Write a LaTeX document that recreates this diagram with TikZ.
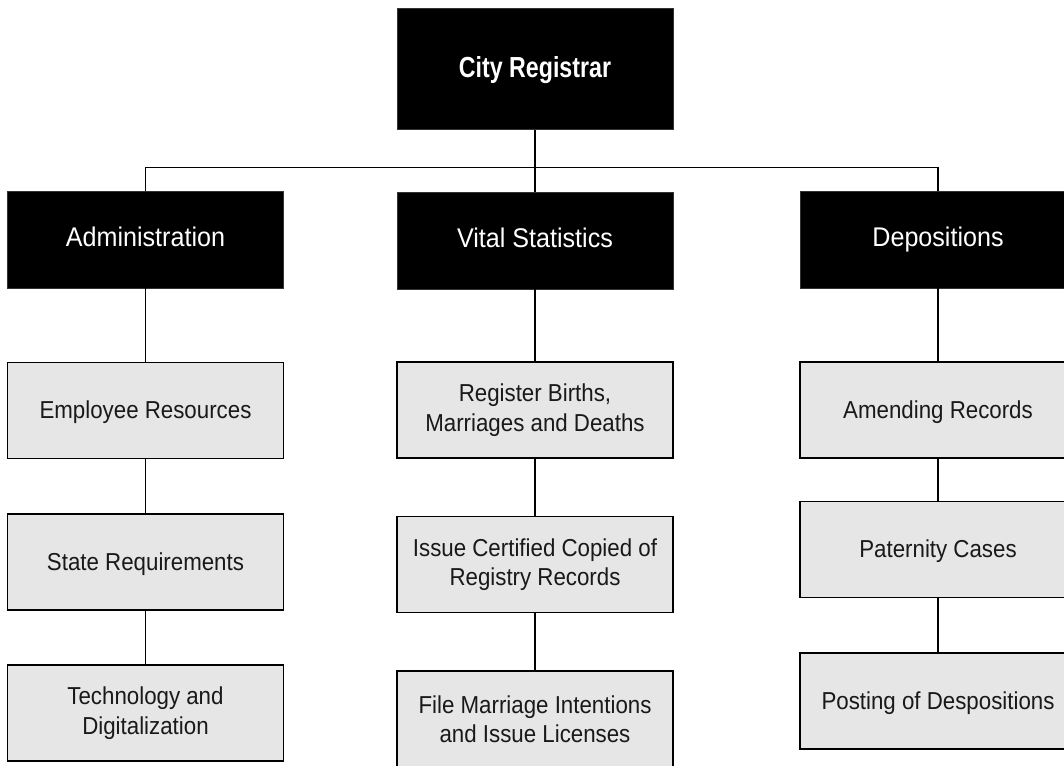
\documentclass[tikz,border=0pt]{standalone}
\usepackage{fontspec}
\setmainfont{Liberation Sans}
\newfontfamily\topfont{Liberation Sans}[FakeStretch=0.93]
\newfontfamily\subfont{Liberation Sans}[FakeStretch=0.91]
\newfontfamily\crfont{Liberation Sans}[FakeStretch=0.80]
\definecolor{boxgray}{HTML}{E6E6E6}
\tikzset{
  headbox/.style={rectangle, fill=black, draw=black!80, line width=0.8pt,
    minimum width=276pt, minimum height=97pt, inner sep=0pt,
    text height=19pt, text depth=6pt,
    text=white, font=\topfont\fontsize{27}{32}\selectfont},
  chiefbox/.style={headbox, minimum height=121pt,
    text height=21pt, text depth=4pt,
    font=\crfont\bfseries\fontsize{29}{34}\selectfont},
  subbox/.style={rectangle, fill=boxgray, draw=black, line width=1.5pt,
    minimum width=276pt, minimum height=96pt, inner sep=0pt, align=center,
    text=black!90, font=\subfont\fontsize{24.5}{29.5}\selectfont},
  oneline/.style={text height=18pt, text depth=1.5pt},
  link/.style={draw=black, line width=1.6pt}
}
\begin{document}
\begin{tikzpicture}[x=1pt,y=-1pt]
\useasboundingbox (0,0) rectangle (1064,765);
\clip (0,0) rectangle (1064,765);
\fill[white] (0,0) rectangle (1064,765);

% top level
\node[chiefbox] (cr) at (535,68.8) {City Registrar};
\node[headbox] (adm) at (145.5,239.5) {Administration};
\node[headbox] (vit) at (535,240.5) {Vital Statistics};
\node[headbox] (dep) at (938,239.5) {Depositions};

% sub boxes
\node[subbox, oneline] (emp) at (145.5,410.6) {Employee Resources};
\node[subbox, oneline] (sta) at (145.5,562.2) {State Requirements};
\node[subbox] (tec) at (145.5,713.2) {Technology and\\Digitalization};

\node[subbox] (reg) at (535,410) {Register Births,\\Marriages and Deaths};
\node[subbox] (iss) at (535,564.7) {Issue Certified Copied of\\Registry Records};
\node[subbox] (fil) at (535,719) {File Marriage Intentions\\and Issue Licenses};

\node[subbox, oneline] (amd) at (938,410) {Amending Records};
\node[subbox, oneline] (pat) at (938,549.5) {Paternity Cases};
\node[subbox, oneline] (pos) at (938,701) {Posting of Despositions};

% connectors
\coordinate (j) at (535,167.5);
\draw[link] (cr.south) -- (vit.north);
\draw[link] (adm.north) |- (j) -| (dep.north);

\draw[link] (adm.south) -- (emp.north);
\draw[link] (emp.south) -- (sta.north);
\draw[link] (sta.south) -- (tec.north);

\draw[link] (vit.south) -- (reg.north);
\draw[link] (reg.south) -- (iss.north);
\draw[link] (iss.south) -- (fil.north);

\draw[link] (dep.south) -- (amd.north);
\draw[link] (amd.south) -- (pat.north);
\draw[link] (pat.south) -- (pos.north);
\end{tikzpicture}
\end{document}
